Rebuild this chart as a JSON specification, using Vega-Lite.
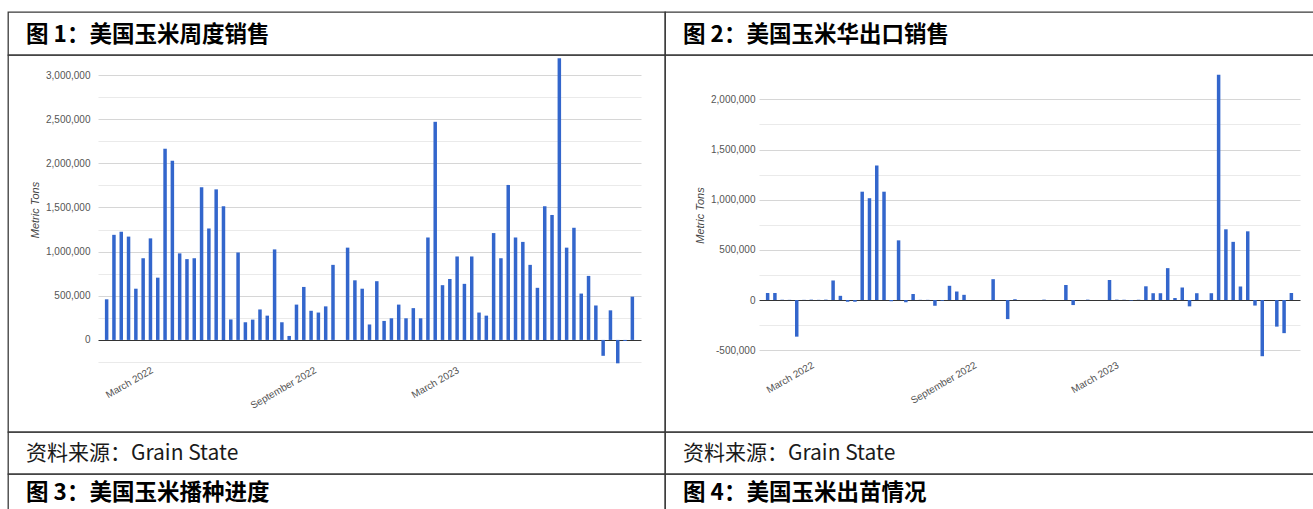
{
  "$schema": "https://vega.github.io/schema/vega-lite/v6.json",
  "background": "white",
  "padding": {"left": 7, "top": 11, "right": 0, "bottom": 0},
  "config": {
    "view": {"stroke": "#3a3a3a", "strokeWidth": 1.3},
    "font": "Liberation Sans",
    "title": {"anchor": "start", "frame": "group", "orient": "top", "baseline": "top", "dx": 18, "font": "Noto Sans CJK SC", "color": "#000000"}
  },
  "datasets": {
    "sales": [
      {"week": 0, "tons": 460000}, {"week": 1, "tons": 1190000}, {"week": 2, "tons": 1225000}, {"week": 3, "tons": 1170000},
      {"week": 4, "tons": 580000}, {"week": 5, "tons": 925000}, {"week": 6, "tons": 1150000}, {"week": 7, "tons": 705000},
      {"week": 8, "tons": 2165000}, {"week": 9, "tons": 2030000}, {"week": 10, "tons": 980000}, {"week": 11, "tons": 915000},
      {"week": 12, "tons": 925000}, {"week": 13, "tons": 1730000}, {"week": 14, "tons": 1262000}, {"week": 15, "tons": 1705000},
      {"week": 16, "tons": 1515000}, {"week": 17, "tons": 232000}, {"week": 18, "tons": 990000}, {"week": 19, "tons": 200000},
      {"week": 20, "tons": 230000}, {"week": 21, "tons": 345000}, {"week": 22, "tons": 275000}, {"week": 23, "tons": 1025000},
      {"week": 24, "tons": 200000}, {"week": 25, "tons": 45000}, {"week": 26, "tons": 400000}, {"week": 27, "tons": 600000},
      {"week": 28, "tons": 330000}, {"week": 29, "tons": 310000}, {"week": 30, "tons": 380000}, {"week": 31, "tons": 850000},
      {"week": 32, "tons": 0}, {"week": 33, "tons": 1045000}, {"week": 34, "tons": 675000}, {"week": 35, "tons": 580000},
      {"week": 36, "tons": 175000}, {"week": 37, "tons": 665000}, {"week": 38, "tons": 215000}, {"week": 39, "tons": 245000},
      {"week": 40, "tons": 400000}, {"week": 41, "tons": 245000}, {"week": 42, "tons": 360000}, {"week": 43, "tons": 245000},
      {"week": 44, "tons": 1160000}, {"week": 45, "tons": 2470000}, {"week": 46, "tons": 620000}, {"week": 47, "tons": 690000},
      {"week": 48, "tons": 945000}, {"week": 49, "tons": 635000}, {"week": 50, "tons": 945000}, {"week": 51, "tons": 310000},
      {"week": 52, "tons": 275000}, {"week": 53, "tons": 1210000}, {"week": 54, "tons": 925000}, {"week": 55, "tons": 1755000},
      {"week": 56, "tons": 1160000}, {"week": 57, "tons": 1110000}, {"week": 58, "tons": 850000}, {"week": 59, "tons": 590000},
      {"week": 60, "tons": 1515000}, {"week": 61, "tons": 1415000}, {"week": 62, "tons": 3190000}, {"week": 63, "tons": 1045000},
      {"week": 64, "tons": 1270000}, {"week": 65, "tons": 525000}, {"week": 66, "tons": 725000}, {"week": 67, "tons": 390000},
      {"week": 68, "tons": -180000}, {"week": 69, "tons": 335000}, {"week": 70, "tons": -265000}, {"week": 71, "tons": -12000},
      {"week": 72, "tons": 490000}
    ],
    "china": [
      {"week": 0, "tons": 70000}, {"week": 1, "tons": 70000}, {"week": 2, "tons": 3000}, {"week": 3, "tons": 2000},
      {"week": 4, "tons": -365000}, {"week": 5, "tons": 2000}, {"week": 6, "tons": 4000}, {"week": 7, "tons": 2000},
      {"week": 8, "tons": 4000}, {"week": 9, "tons": 195000}, {"week": 10, "tons": 42000}, {"week": 11, "tons": -17000},
      {"week": 12, "tons": -17000}, {"week": 13, "tons": 1080000}, {"week": 14, "tons": 1015000}, {"week": 15, "tons": 1340000},
      {"week": 16, "tons": 1080000}, {"week": 17, "tons": -12000}, {"week": 18, "tons": 595000}, {"week": 19, "tons": -22000},
      {"week": 20, "tons": 60000}, {"week": 21, "tons": 2000}, {"week": 22, "tons": 2000}, {"week": 23, "tons": -57000},
      {"week": 24, "tons": -7000}, {"week": 25, "tons": 142000}, {"week": 26, "tons": 85000}, {"week": 27, "tons": 52000},
      {"week": 28, "tons": 0}, {"week": 29, "tons": 0}, {"week": 30, "tons": 0}, {"week": 31, "tons": 208000},
      {"week": 32, "tons": 0}, {"week": 33, "tons": -190000}, {"week": 34, "tons": 8000}, {"week": 35, "tons": 0},
      {"week": 36, "tons": 0}, {"week": 37, "tons": 0}, {"week": 38, "tons": 4000}, {"week": 39, "tons": 0},
      {"week": 40, "tons": 0}, {"week": 41, "tons": 150000}, {"week": 42, "tons": -50000}, {"week": 43, "tons": 0},
      {"week": 44, "tons": 4000}, {"week": 45, "tons": 0}, {"week": 46, "tons": 0}, {"week": 47, "tons": 200000},
      {"week": 48, "tons": 4000}, {"week": 49, "tons": 3000}, {"week": 50, "tons": -5000}, {"week": 51, "tons": 3000},
      {"week": 52, "tons": 137000}, {"week": 53, "tons": 68000}, {"week": 54, "tons": 68000}, {"week": 55, "tons": 318000},
      {"week": 56, "tons": 20000}, {"week": 57, "tons": 125000}, {"week": 58, "tons": -63000}, {"week": 59, "tons": 68000},
      {"week": 60, "tons": 0}, {"week": 61, "tons": 68000}, {"week": 62, "tons": 2245000}, {"week": 63, "tons": 705000},
      {"week": 64, "tons": 580000}, {"week": 65, "tons": 135000}, {"week": 66, "tons": 685000}, {"week": 67, "tons": -55000},
      {"week": 68, "tons": -560000}, {"week": 69, "tons": 0}, {"week": 70, "tons": -265000}, {"week": 71, "tons": -330000},
      {"week": 72, "tons": 70000}
    ]
  },
  "spacing": 0,
  "bounds": "flush",
  "columns": 2,
  "concat": [
    {"width": 657, "height": 43, "view": {"stroke": "#3a3a3a", "strokeWidth": 1.3}, "data": {"values": [{"k": 1}]}, "mark": {"type": "text", "text": ""},
     "title": {"text": "图 1：美国玉米周度销售", "fontSize": 22.5, "fontWeight": "bold", "offset": -34.9}},
    {"width": 650, "height": 43, "view": {"stroke": "#3a3a3a", "strokeWidth": 1.3}, "data": {"values": [{"k": 1}]}, "mark": {"type": "text", "text": ""},
     "title": {"text": "图 2：美国玉米华出口销售", "fontSize": 22.5, "fontWeight": "bold", "offset": -34.9}},
    {
      "width": 657, "height": 377,
      "data": {"name": "sales"},
      "mark": {"type": "bar", "size": 3.5, "color": "#3366cc"},
      "encoding": {
        "x": {"field": "week", "type": "quantitative",
          "scale": {"domain": [-0.5, 72.5], "range": [90, 633], "nice": false},
          "axis": {"values": [6.2, 28.55, 48.1],
            "labelExpr": "datum.value < 15 ? 'March 2022' : datum.value < 38 ? 'September 2022' : 'March 2023'",
            "labelAngle": -30, "labelAlign": "right", "labelBaseline": "middle", "labelPadding": 7,
            "offset": -70, "domain": false, "ticks": false, "grid": false, "title": null,
            "labelFontSize": 10, "labelColor": "#555555", "labelOverlap": false, "labelFlush": false, "labelBound": false}},
        "y": {"field": "tons", "type": "quantitative",
          "scale": {"domain": [-250000, 3000000], "range": [307, 20], "nice": false},
          "axis": {"values": [-250000, 0, 250000, 500000, 750000, 1000000, 1250000, 1500000, 1750000, 2000000, 2250000, 2500000, 2750000, 3000000],
            "labelExpr": "datum.value >= 0 && datum.value % 500000 === 0 ? format(datum.value, ',') : ''",
            "offset": -89, "labelPadding": 7, "domain": false, "ticks": false, "tickSize": 0, "grid": true,
            "gridColor": {"condition": {"test": "datum.value === 0", "value": "#333333"}, "value": "#d6d6d6"},
            "gridOpacity": {"condition": {"test": "datum.value % 500000 !== 0", "value": 0.5}, "value": 1},
            "title": "Metric Tons", "titleFontStyle": "italic", "titleFontWeight": "normal", "titleFontSize": 11,
            "titleColor": "#444444", "titlePadding": 5, "titleY": 154.5, "labelFontSize": 10, "labelColor": "#555555", "labelOverlap": false}}
      }
    },
    {
      "width": 650, "height": 377,
      "data": {"name": "china"},
      "mark": {"type": "bar", "size": 3.5, "color": "#3366cc"},
      "encoding": {
        "x": {"field": "week", "type": "quantitative",
          "scale": {"domain": [-0.5, 72.5], "range": [94, 635], "nice": false},
          "axis": {"values": [6.2, 28.55, 48.1],
            "labelExpr": "datum.value < 15 ? 'March 2022' : datum.value < 38 ? 'September 2022' : 'March 2023'",
            "labelAngle": -30, "labelAlign": "right", "labelBaseline": "middle", "labelPadding": 14,
            "offset": -82, "domain": false, "ticks": false, "grid": false, "title": null,
            "labelFontSize": 10, "labelColor": "#555555", "labelOverlap": false, "labelFlush": false, "labelBound": false}},
        "y": {"field": "tons", "type": "quantitative",
          "scale": {"domain": [-500000, 2000000], "range": [295.2, 44.4], "nice": false},
          "axis": {"values": [-500000, -250000, 0, 250000, 500000, 750000, 1000000, 1250000, 1500000, 1750000, 2000000],
            "labelExpr": "datum.value % 500000 === 0 ? (datum.value < 0 ? '-' : '') + format(abs(datum.value), ',') : ''",
            "offset": -94, "labelPadding": 4, "domain": false, "ticks": false, "tickSize": 0, "grid": true,
            "gridColor": {"condition": {"test": "datum.value === 0", "value": "#333333"}, "value": "#d6d6d6"},
            "gridOpacity": {"condition": {"test": "datum.value % 500000 !== 0", "value": 0.5}, "value": 1},
            "title": "Metric Tons", "titleFontStyle": "italic", "titleFontWeight": "normal", "titleFontSize": 11,
            "titleColor": "#444444", "titlePadding": 5, "titleY": 160, "labelFontSize": 10, "labelColor": "#555555", "labelOverlap": false}}
      }
    },
    {"width": 657, "height": 42, "view": {"stroke": "#3a3a3a", "strokeWidth": 1.3}, "data": {"values": [{"k": 1}]}, "mark": {"type": "text", "text": ""},
     "title": {"text": "资料来源：Grain State", "fontSize": 21, "fontWeight": "normal", "color": "#1a1a1a", "offset": -32.15}},
    {"width": 650, "height": 42, "view": {"stroke": "#3a3a3a", "strokeWidth": 1.3}, "data": {"values": [{"k": 1}]}, "mark": {"type": "text", "text": ""},
     "title": {"text": "资料来源：Grain State", "fontSize": 21, "fontWeight": "normal", "color": "#1a1a1a", "offset": -32.15}},
    {"width": 657, "height": 43, "view": {"stroke": "#3a3a3a", "strokeWidth": 1.3}, "data": {"values": [{"k": 1}]}, "mark": {"type": "text", "text": ""},
     "title": {"text": "图 3：美国玉米播种进度", "fontSize": 22.5, "fontWeight": "bold", "offset": -30.9}},
    {"width": 650, "height": 43, "view": {"stroke": "#3a3a3a", "strokeWidth": 1.3}, "data": {"values": [{"k": 1}]}, "mark": {"type": "text", "text": ""},
     "title": {"text": "图 4：美国玉米出苗情况", "fontSize": 22.5, "fontWeight": "bold", "offset": -30.9}}
  ]
}
